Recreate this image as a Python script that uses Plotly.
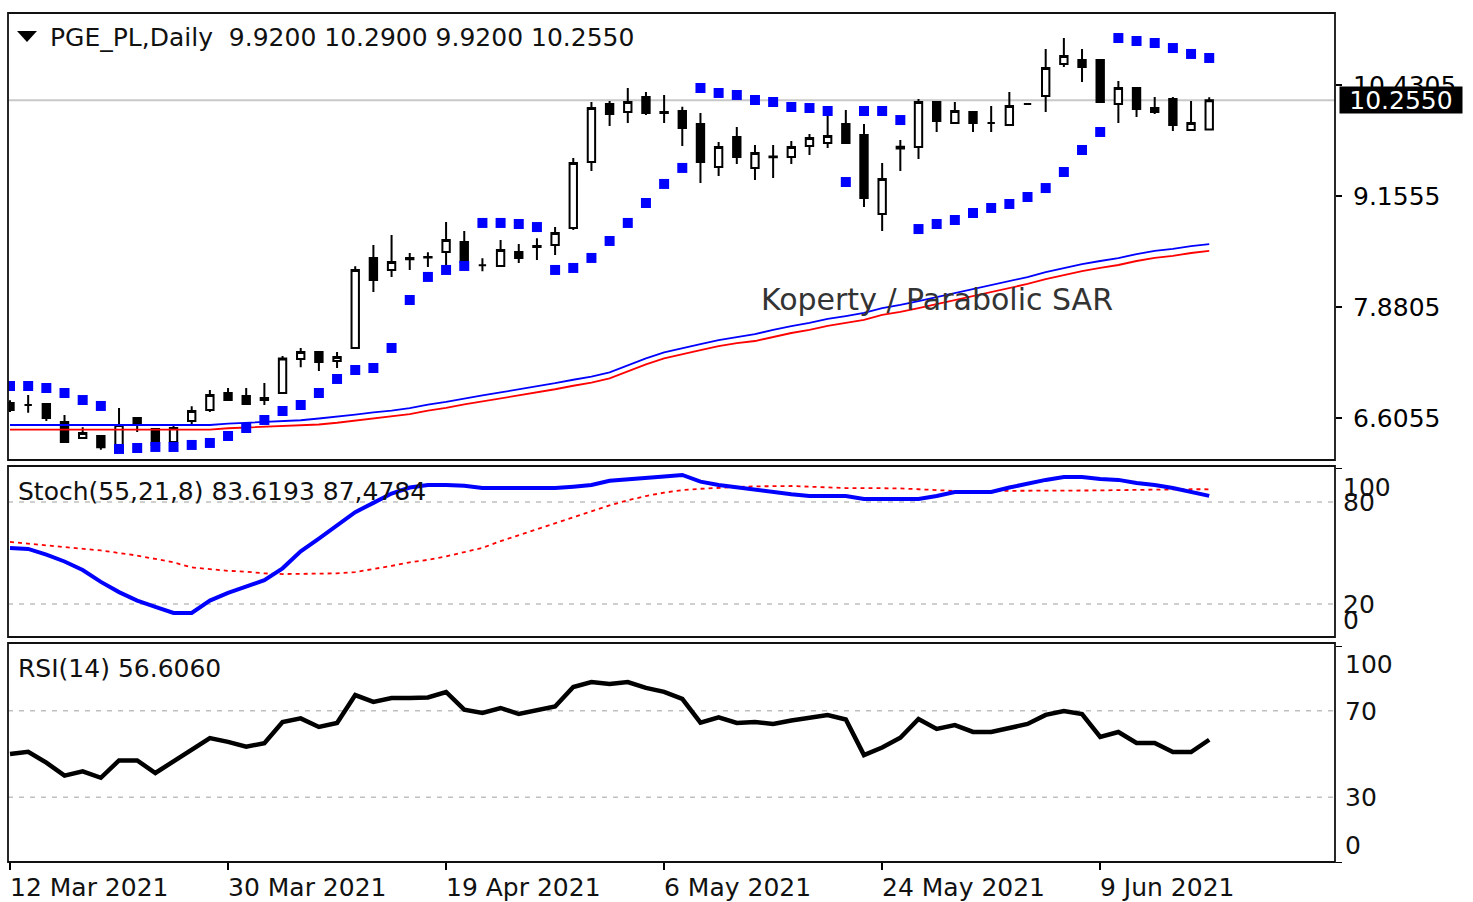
import plotly.graph_objects as go

W, H = 1473, 902

# ---------------- data ----------------
bars = list(range(67))  # trading days from 12 Mar 2021 to 17 Jun 2021
tick_pos = [0, 12, 24, 36, 48, 60]
tick_labels = ["12 Mar 2021", "30 Mar 2021", "19 Apr 2021", "6 May 2021", "24 May 2021", "9 Jun 2021"]

open_ = [6.778, 6.755, 6.767, 6.56, 6.376, 6.40, 6.295, 6.606, 6.479, 6.33,
         6.571, 6.698, 6.893, 6.858, 6.835, 6.893, 7.283, 7.364, 7.26, 7.41,
         8.443, 8.306, 8.43, 8.45, 8.512, 8.627, 8.36, 8.352, 8.512, 8.57,
         8.593, 8.788, 9.546, 10.212, 10.12, 10.293, 10.12, 10.132, 9.982, 9.489,
         9.833, 9.477, 9.61, 9.603, 9.73, 9.764, 9.982, 9.856, 8.949, 9.72,
         9.718, 10.235, 9.994, 10.12, 9.994, 9.97, 10.212, 10.304, 10.672, 10.718,
         10.718, 10.212, 10.396, 10.166, 10.27, 9.914, 9.92]
high = [6.81, 6.87, 6.778, 6.64, 6.50, 6.41, 6.72, 6.618, 6.49, 6.525,
        6.74, 6.927, 6.95, 6.95, 7.008, 7.318, 7.41, 7.375, 7.364, 8.35,
        8.593, 8.708, 8.50, 8.51, 8.857, 8.753, 8.44, 8.65, 8.605, 8.67,
        8.80, 9.592, 10.235, 10.247, 10.396, 10.35, 10.316, 10.18, 10.109, 9.776,
        9.948, 9.741, 9.741, 9.787, 9.868, 10.097, 10.143, 9.982, 9.535, 9.799,
        10.27, 10.247, 10.235, 10.13, 10.19, 10.35, 10.216, 10.844, 10.97, 10.844,
        10.718, 10.477, 10.396, 10.293, 10.293, 10.247, 10.29]
low = [6.675, 6.665, 6.57, 6.32, 6.376, 6.24, 6.295, 6.445, 6.27, 6.28,
       6.525, 6.675, 6.80, 6.755, 6.755, 6.89, 7.19, 7.145, 7.18, 7.41,
       8.053, 8.225, 8.306, 8.34, 8.34, 8.363, 8.29, 8.35, 8.386, 8.42,
       8.478, 8.765, 9.443, 9.96, 9.994, 10.086, 9.994, 9.73, 9.305, 9.385,
       9.523, 9.339, 9.362, 9.523, 9.626, 9.707, 9.764, 9.029, 8.753, 9.443,
       9.58, 9.89, 9.994, 9.89, 9.89, 9.97, 10.208, 10.12, 10.637, 10.465,
       10.224, 9.994, 10.063, 10.097, 9.902, 9.914, 9.92]
close = [6.698, 6.755, 6.605, 6.33, 6.433, 6.27, 6.525, 6.525, 6.295, 6.49,
         6.686, 6.87, 6.812, 6.767, 6.812, 7.29, 7.364, 7.249, 7.306, 8.306,
         8.191, 8.398, 8.443, 8.455, 8.65, 8.398, 8.36, 8.535, 8.443, 8.58,
         8.73, 9.535, 10.166, 10.097, 10.235, 10.109, 10.109, 9.937, 9.546, 9.718,
         9.603, 9.65, 9.60, 9.718, 9.822, 9.845, 9.764, 9.133, 9.351, 9.70,
         10.235, 10.017, 10.132, 9.994, 9.994, 10.19, 10.212, 10.626, 10.764, 10.637,
         10.235, 10.396, 10.155, 10.12, 9.97, 9.994, 10.255]

sar = [6.973, 6.973, 6.950, 6.893, 6.812, 6.744,
       6.250, 6.261, 6.273, 6.273, 6.296, 6.319, 6.399, 6.491, 6.583, 6.686,
       6.755, 6.893, 7.054, 7.157, 7.180, 7.410, 7.961, 8.226, 8.306, 8.352,
       8.846, 8.846, 8.834, 8.799,
       8.306, 8.329, 8.444, 8.639, 8.846, 9.075, 9.294, 9.478,
       10.396, 10.339, 10.316, 10.258, 10.235, 10.178, 10.166, 10.132,
       9.316,
       10.132, 10.132, 10.028,
       8.776, 8.834, 8.880, 8.960, 9.018, 9.064, 9.144, 9.247, 9.431, 9.684, 9.891,
       10.970, 10.936, 10.913, 10.855, 10.787, 10.741]

env_upper = [6.525, 6.525, 6.525, 6.525, 6.525, 6.525, 6.525, 6.525, 6.525, 6.525,
             6.525, 6.525, 6.54, 6.55, 6.56, 6.57, 6.58, 6.60, 6.62, 6.645,
             6.67, 6.69, 6.72, 6.76, 6.79, 6.83, 6.865, 6.90, 6.935, 6.965,
             7.005, 7.045, 7.08, 7.13, 7.21, 7.29, 7.36, 7.41, 7.455, 7.50,
             7.535, 7.57, 7.617, 7.662, 7.697, 7.743, 7.777, 7.812, 7.869, 7.904,
             7.949, 7.995, 8.041, 8.087, 8.133, 8.179, 8.225, 8.282, 8.329, 8.374,
             8.409, 8.443, 8.489, 8.524, 8.547, 8.581, 8.604]
env_lower = [6.473, 6.473, 6.473, 6.473, 6.473, 6.473, 6.473, 6.473, 6.473, 6.473,
             6.473, 6.473, 6.488, 6.498, 6.508, 6.518, 6.528, 6.531, 6.551, 6.576,
             6.601, 6.621, 6.651, 6.691, 6.721, 6.761, 6.796, 6.831, 6.866, 6.896,
             6.936, 6.976, 7.011, 7.061, 7.141, 7.221, 7.291, 7.341, 7.386, 7.431,
             7.466, 7.490, 7.537, 7.582, 7.617, 7.663, 7.697, 7.732, 7.789, 7.824,
             7.869, 7.915, 7.961, 8.007, 8.053, 8.099, 8.145, 8.202, 8.249, 8.294,
             8.329, 8.363, 8.409, 8.444, 8.467, 8.501, 8.524]

stoch_k = [52.9, 52.4, 49.0, 45.0, 40.0, 33.0, 27.0, 22.0, 18.3, 14.7,
           14.7, 22.0, 26.5, 30.0, 34.0, 41.0, 51.0, 58.5, 66.0, 74.0,
           79.5, 85.0, 88.5, 90.0, 90.0, 89.5, 88.2, 88.2, 88.2, 88.2,
           88.2, 89.0, 90.0, 92.5, 93.5, 94.0, 95.0, 95.9, 92.0, 90.0,
           88.5, 87.0, 85.9, 84.5, 83.5, 83.5, 83.5, 81.8, 81.8, 81.8,
           81.8, 83.5, 85.9, 85.9, 85.9, 88.5, 91.0, 93.0, 94.7, 94.7,
           93.5, 93.0, 91.2, 90.0, 88.2, 85.9, 83.62]
stoch_d = [56.5, 55.5, 54.5, 53.5, 52.5, 51.5, 50.0, 48.5, 46.5, 44.5,
           41.5, 40.5, 39.5, 39.0, 38.0, 37.6, 37.6, 37.7, 38.0, 38.8,
           40.5, 42.4, 44.5, 46.0, 48.0, 50.5, 53.0, 57.0, 60.5, 64.0,
           67.5, 71.0, 74.5, 78.0, 81.0, 83.5, 85.5, 87.0, 87.8, 88.5,
           88.8, 89.2, 89.4, 89.4, 89.0, 88.5, 88.2, 88.2, 88.2, 88.0,
           87.5, 87.0, 86.5, 86.5, 86.5, 86.5, 86.5, 86.5, 86.5, 86.6,
           86.8, 87.0, 87.2, 87.4, 87.5, 87.5, 87.48]
rsi = [50.0, 51.0, 46.0, 40.0, 42.0, 39.0, 47.0, 47.0, 41.2, 46.5,
       51.5, 57.4, 55.6, 53.4, 55.0, 64.8, 66.5, 62.5, 64.4, 77.3,
       74.1, 75.9, 75.9, 76.2, 78.7, 70.5, 69.0, 71.3, 68.5, 70.4,
       72.0, 81.0, 83.3, 82.4, 83.3, 80.6, 78.8, 75.5, 64.5, 67.0,
       64.4, 64.8, 63.9, 65.5, 66.7, 68.0, 66.0, 49.5, 53.0, 57.5,
       66.2, 61.6, 63.4, 60.2, 60.2, 62.0, 63.9, 68.1, 69.9, 68.5,
       57.9, 60.2, 55.1, 55.1, 50.9, 50.9, 56.6]

price_ticks = [6.6055, 7.8805, 9.1555, 10.4305]
last_price = 10.255
stoch_levels = [80, 20]
rsi_levels = [70, 30]

# ---------------- layout helpers ----------------
FONT = "DejaVu Sans"
X0, X1 = 8, 1335
PANELS = {"main": (13, 460), "stoch": (466, 637), "rsi": (643, 862)}


def px(x):
    return x / W


def py(y):
    return 1 - y / H


def dom(name):
    t, b = PANELS[name]
    return [py(b), py(t)]


xr = [(X0 - 10) / 18.17, (X1 - 10) / 18.17]

fig = go.Figure()

fig.add_trace(go.Scatter(x=bars, y=env_upper, mode="lines", line=dict(color="#0000ff", width=1.8),
                         xaxis="x", yaxis="y", showlegend=False, hoverinfo="skip"))
fig.add_trace(go.Scatter(x=bars, y=env_lower, mode="lines", line=dict(color="#ff0000", width=1.8),
                         xaxis="x", yaxis="y", showlegend=False, hoverinfo="skip"))
fig.add_trace(go.Candlestick(x=bars, open=open_, high=high, low=low, close=close,
                             increasing=dict(line=dict(color="black", width=2), fillcolor="white"),
                             decreasing=dict(line=dict(color="black", width=2), fillcolor="black"),
                             whiskerwidth=0, xaxis="x", yaxis="y", showlegend=False))
fig.add_trace(go.Scatter(x=bars, y=sar, mode="markers",
                         marker=dict(symbol="square", size=10, color="#0000ff"),
                         xaxis="x", yaxis="y", showlegend=False))

fig.add_trace(go.Scatter(x=bars, y=stoch_d, mode="lines",
                         line=dict(color="#ff0000", width=1.8, dash="4px,4px"),
                         xaxis="x2", yaxis="y2", showlegend=False))
fig.add_trace(go.Scatter(x=bars, y=stoch_k, mode="lines", line=dict(color="#0000ff", width=4),
                         xaxis="x2", yaxis="y2", showlegend=False))

fig.add_trace(go.Scatter(x=bars, y=rsi, mode="lines", line=dict(color="black", width=4.5),
                         xaxis="x3", yaxis="y3", showlegend=False))

common_x = dict(domain=[px(X0), px(X1)], range=xr, showgrid=False, zeroline=False,
                showline=False, fixedrange=True)
fig.update_layout(
    width=W, height=H, margin=dict(l=0, r=0, t=0, b=0),
    paper_bgcolor="white", plot_bgcolor="white", boxgap=0.42,
    xaxis=dict(common_x, anchor="y", showticklabels=False, ticks="", rangeslider=dict(visible=False)),
    xaxis2=dict(common_x, anchor="y2", showticklabels=False, ticks=""),
    xaxis3=dict(common_x, anchor="y3", showticklabels=False, ticks="outside", ticklen=7,
                tickwidth=1.5, tickcolor="black", tickvals=tick_pos),
    yaxis=dict(domain=dom("main"), range=[11.4068 - 0.011486 * 460, 11.4068 - 0.011486 * 13],
               side="right", anchor="x", tickvals=price_ticks, ticktext=[f"{v:.4f}" for v in price_ticks],
               ticks="outside", ticklen=6, tickwidth=1.5, tickcolor="black", ticklabelstandoff=6,
               tickfont=dict(family=FONT, size=25, color="black"), showgrid=False, zeroline=False),
    yaxis2=dict(domain=dom("stoch"), range=[(638 - 637) / 1.7, (638 - 466) / 1.7], side="right",
                anchor="x2", showticklabels=False, tickvals=[100], ticks="outside", ticklen=6,
                tickcolor="black", showgrid=False, zeroline=False),
    yaxis3=dict(domain=dom("rsi"), range=[0, (862 - 643) / 2.16], side="right", anchor="x3",
                showticklabels=False, tickvals=[0, 100], ticks="outside", ticklen=6,
                tickcolor="black", showgrid=False, zeroline=False),
)

shapes = []
# level lines
for lv in stoch_levels:
    shapes.append(dict(type="line", xref="paper", yref="y2", x0=px(X0), x1=px(X1), y0=lv, y1=lv,
                       line=dict(color="#c0c0c0", width=1.5, dash="5px,6px"), layer="below"))
for lv in rsi_levels:
    shapes.append(dict(type="line", xref="paper", yref="y3", x0=px(X0), x1=px(X1), y0=lv, y1=lv,
                       line=dict(color="#c0c0c0", width=1.5, dash="5px,6px"), layer="below"))
shapes.append(dict(type="line", xref="paper", yref="y", x0=px(X0), x1=px(X1), y0=last_price, y1=last_price,
                   line=dict(color="#c8c8c8", width=2), layer="below"))
# panel frames
for name, (t, b) in PANELS.items():
    shapes.append(dict(type="rect", xref="paper", yref="paper", x0=px(X0), x1=px(X1), y0=py(b), y1=py(t),
                       line=dict(color="#111111", width=1.8), fillcolor="rgba(0,0,0,0)", layer="above"))
# dropdown triangle
shapes.append(dict(type="path", xref="paper", yref="paper",
                   path=f"M {px(17)} {py(31)} L {px(37)} {py(31)} L {px(27)} {py(42)} Z",
                   fillcolor="black", line=dict(color="black", width=0)))
fig.update_layout(shapes=shapes)

ann = []
txt = dict(family=FONT, size=25, color="#111111")
ann.append(dict(text="PGE_PL,Daily\u00a0\u00a09.9200 10.2900 9.9200 10.2550", xref="paper", yref="paper",
                x=px(48), y=py(37), xanchor="left", yanchor="middle", showarrow=False, font=txt))
ann.append(dict(text="Stoch(55,21,8) 83.6193 87,4784", xref="paper", yref="paper",
                x=px(16), y=py(491), xanchor="left", yanchor="middle", showarrow=False, font=txt))
ann.append(dict(text="RSI(14) 56.6060", xref="paper", yref="paper",
                x=px(16), y=py(668), xanchor="left", yanchor="middle", showarrow=False, font=txt))
ann.append(dict(text="Koperty / Parabolic SAR", xref="paper", yref="paper",
                x=px(937), y=py(300), xanchor="center", yanchor="middle", showarrow=False,
                font=dict(family=FONT, size=30, color="#333333")))
# current price box
ann.append(dict(text="10.2550", xref="paper", yref="y", x=px(1339), y=last_price, xanchor="left",
                yanchor="middle", showarrow=False, bgcolor="black", width=118, height=22, borderpad=2,
                font=dict(family=FONT, size=25, color="white")))
# stochastic scale
for lab, yy in [("100", 487), ("80", 502), ("20", 604), ("0", 620)]:
    ann.append(dict(text=lab, xref="paper", yref="paper", x=px(1341), y=py(yy), xanchor="left",
                    yanchor="middle", showarrow=False, font=txt))
# rsi scale
for lab, yy in [("100", 664), ("70", 711), ("30", 797), ("0", 845)]:
    ann.append(dict(text=lab, xref="paper", yref="paper", x=px(1343), y=py(yy), xanchor="left",
                    yanchor="middle", showarrow=False, font=txt))
# date labels
for pos, lab in zip(tick_pos, tick_labels):
    ann.append(dict(text=lab, xref="x3", yref="paper", x=pos, y=py(887), xanchor="left",
                    yanchor="middle", showarrow=False, xshift=-2, font=txt))
fig.update_layout(annotations=ann)

fig.write_html("out.html", config={"displayModeBar": False},
               post_script="document.body.style.margin='0px';")
